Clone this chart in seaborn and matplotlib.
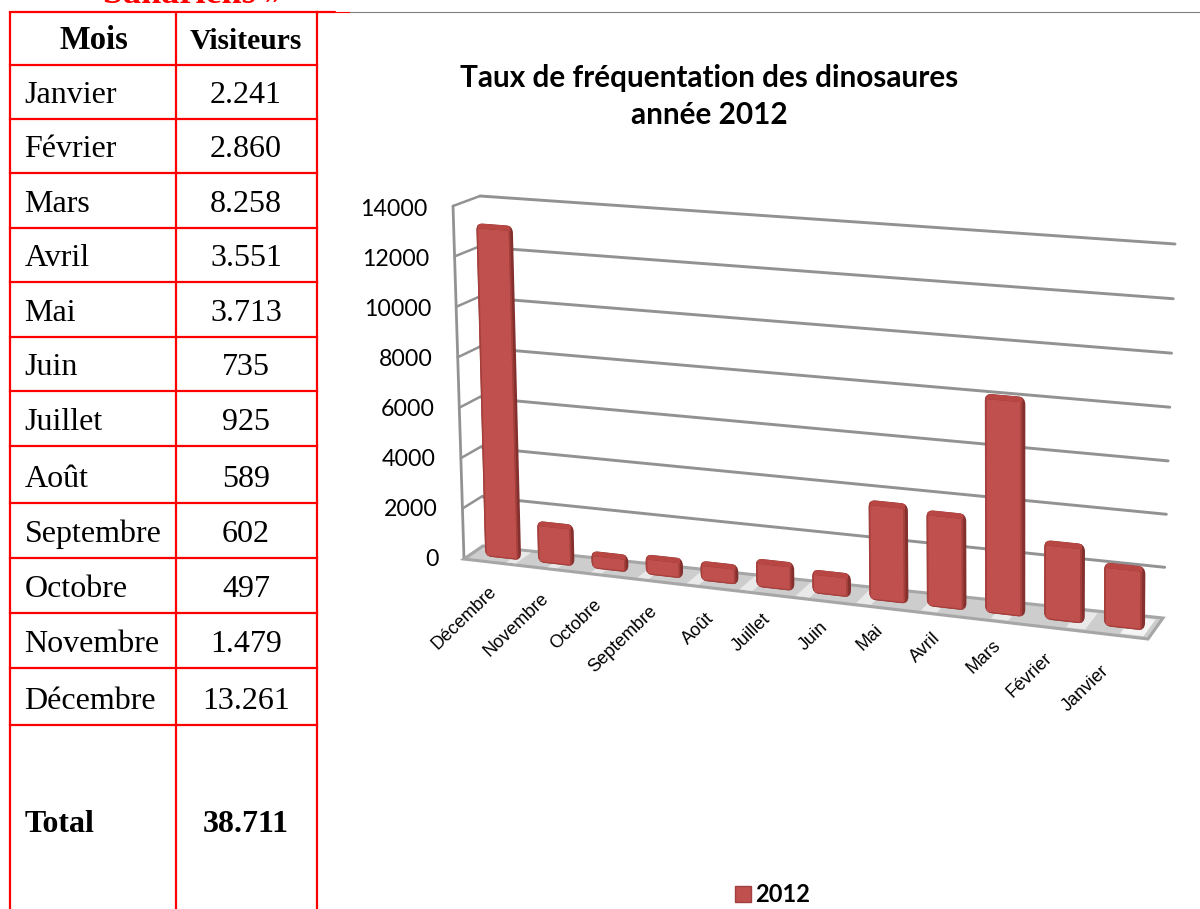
import numpy as np
import pandas as pd
import seaborn as sns
import matplotlib
matplotlib.use('Agg')
import matplotlib.pyplot as plt
import matplotlib.transforms as mtransforms
from matplotlib.patches import FancyBboxPatch, Rectangle, Polygon, Patch

# Data
months = ['Janvier', 'Février', 'Mars', 'Avril', 'Mai', 'Juin', 'Juillet', 'Août',
          'Septembre', 'Octobre', 'Novembre', 'Décembre']
visitors = [2241, 2860, 8258, 3551, 3713, 735, 925, 589, 602, 497, 1479, 13261]
total_visitors = 38711
y_ticks = [0, 2000, 4000, 6000, 8000, 10000, 12000, 14000]
table_rows = [12, 65, 119, 173, 228, 282, 337, 391, 446, 503, 558, 613, 668, 725]
table_cols = [10, 176, 317]

# Label shifts under each bar, in pixels, Décembre first
label_dx = [-8, -9, -10, -9, -7, -7, -5, -8, -8, -6, -14, -17]
label_dy = [25, 26, 26, 26, 27, 22, 24, 20, 21, 22, 28, 34]

RED = '#ff0000'
GRID = '#929292'
FACE = '#c0504d'
SIDE = '#84302e'
EDGE = '#a53f3c'
CAP = '#b84643'


class Plane(mtransforms.Transform):
    # projective map, the chart is a 3D perspective picture
    input_dims = 2
    output_dims = 2
    is_separable = False
    has_inverse = False

    def __init__(self, src, dst):
        super().__init__()
        a = []
        b = []
        for (x, y), (u, v) in zip(src, dst):
            a.append([x, y, 1, 0, 0, 0, -u * x, -u * y])
            a.append([0, 0, 0, x, y, 1, -v * x, -v * y])
            b += [u, v]
        h = np.linalg.solve(np.array(a, float), np.array(b, float))
        self.h = np.append(h, 1).reshape(3, 3)

    def transform_non_affine(self, values):
        xy = np.asarray(values, float)
        p = np.column_stack([xy, np.ones(len(xy))]) @ self.h.T
        return p[:, :2] / p[:, 2:]


class SideWall(mtransforms.Transform):
    # bilinear map, keeps the value ticks evenly spaced on the narrow wall
    input_dims = 2
    output_dims = 2
    is_separable = False
    has_inverse = False

    def __init__(self, low_front, low_back, top_front, top_back, top):
        super().__init__()
        self.c = np.array([low_front, low_back, top_front, top_back], float)
        self.top = top

    def transform_non_affine(self, values):
        xy = np.asarray(values, float)
        t = xy[:, 0:1]
        s = xy[:, 1:2] / self.top
        low = self.c[0] * (1 - t) + self.c[1] * t
        high = self.c[2] * (1 - t) + self.c[3] * t
        return low * (1 - s) + high * s


sns.set_theme(style='white')
fig = plt.figure(figsize=(12, 9.09), dpi=100)
ax = fig.add_axes([0, 0, 1, 1])

df = pd.DataFrame({'mois': months, 'visiteurs': visitors})
chart_order = months[::-1]
sns.barplot(data=df, x='mois', y='visiteurs', order=chart_order, color=FACE,
            saturation=1, width=0.6, linewidth=0, ax=ax, zorder=5)
bars = list(ax.patches)

ax.set_xlim(0, 1200)
ax.set_ylim(909, 0)
ax.axis('off')

# Perspective planes: bars, back wall, side wall, floor
front = Plane([(0, 0), (11, 0), (0, 14000), (11, 14000)],
              [(501, 558), (1122, 628), (492, 211), (1124, 258)]) + ax.transData
back = Plane([(0, 0), (1, 0), (0, 14000), (1, 14000)],
             [(483, 546), (1163, 620), (480, 196), (1175, 244)]) + ax.transData
side = SideWall((464, 559), (483, 546), (453, 206), (480, 196), 14000) + ax.transData
floor = Plane([(-0.66, 0), (11.4, 0), (-0.66, 1), (11.4, 1)],
              [(464, 559), (1148, 639), (483, 546), (1163, 618)]) + ax.transData

# Floor, with the pale reflections between the bars
ax.add_patch(Polygon([(-0.66, 0), (11.4, 0), (11.4, 1), (-0.66, 1)], closed=True, transform=floor,
                     facecolor='#cdcdcd', edgecolor='#a6a6a6', lw=2.2, zorder=2))
for u in np.arange(0.5, 11, 1):
    ax.add_patch(Polygon([(u - 0.12, 0.1), (u + 0.12, 0.1), (u + 0.12, 0.9), (u - 0.12, 0.9)], closed=True,
                         transform=floor, facecolor='#e9e9e9', edgecolor='none', zorder=2.5))
ax.add_patch(Polygon([(11.05, 0.1), (11.33, 0.1), (11.33, 0.9), (11.05, 0.9)], closed=True,
                     transform=floor, facecolor='#f4f4f4', edgecolor='none', zorder=2.5))

# Walls
for v in y_ticks[1:]:
    ax.plot([0, 1], [v, v], color=GRID, lw=2.1, transform=back, zorder=1, solid_capstyle='round')
for v in y_ticks:
    ax.plot([0, 1], [v, v], color=GRID, lw=1.8, transform=side, zorder=1)
ax.plot([0, 0], [0, 14000], color=GRID, lw=2, transform=side, zorder=1)

for v in y_ticks:
    ax.annotate(str(v), xy=(0, v), xycoords=side, xytext=(-18, -0.7 - 1.5 * v / 14000), textcoords='offset points',
                ha='right', va='center', fontsize=16.7, family='Lato', color='black')

# Bars, the flat seaborn rectangle is the front face of each box
for i, bar in enumerate(bars):
    x, w, h = bar.get_x(), bar.get_width(), bar.get_height()
    body = FancyBboxPatch((x, 0), w + 0.08, h + 210, boxstyle='round,pad=0,rounding_size=0.12',
                          mutation_aspect=2400, transform=front, facecolor=SIDE,
                          edgecolor='none', zorder=3)
    ax.add_patch(body)
    bar.set_transform(front)
    bar.set_clip_path(body)
    strips = [Rectangle((x + w, 0), 0.03, h + 210, transform=front, facecolor=EDGE, edgecolor='none', zorder=4),
              Rectangle((x, h), w + 0.03, 210, transform=front, facecolor=CAP, edgecolor='none', zorder=4),
              Rectangle((x, 0), w + 0.03, 50, transform=front, facecolor=EDGE, edgecolor='none', zorder=6),
              Rectangle((x, 0), 0.03, h + 210, transform=front, facecolor=EDGE, edgecolor='none', zorder=6)]
    for strip in strips:
        ax.add_patch(strip)
        strip.set_clip_path(body)
    ax.annotate(chart_order[i], xy=(i, 0), xycoords=front,
                xytext=((label_dx[i] - 4.5) * 0.72, -label_dy[i] * 0.72), textcoords='offset points',
                ha='right', va='top', rotation=44, rotation_mode='anchor', fontsize=13,
                family='Liberation Sans', color='black')

# Title
ax.text(709, 78, 'Taux de fréquentation des dinosaures', ha='center', va='center',
        fontsize=21.4, fontweight='bold', family='Lato', color='black')
ax.text(709, 115, 'année 2012', ha='center', va='center',
        fontsize=21.4, fontweight='bold', family='Lato', color='black')

# Legend
leg = ax.legend(handles=[Patch(facecolor=FACE, edgecolor='#a04040', label='2012')], loc='center',
                bbox_to_anchor=(773, 895), bbox_transform=ax.transData, frameon=False,
                handlelength=0.65, handleheight=0.65, handletextpad=0.2, labelcolor='black',
                prop={'family': 'Lato', 'weight': 'bold', 'size': 17})

# Table
for y in table_rows:
    ax.plot(table_cols[::2], [y, y], color=RED, lw=1.6, zorder=7, solid_capstyle='projecting')
for x in table_cols:
    ax.plot([x, x], [table_rows[0], 909], color=RED, lw=1.6, zorder=7)
ax.plot([317, 335], [12, 12], color=RED, lw=1.6, zorder=7)
ax.plot([335, 350], [11.5, 11.5], color=RED, lw=0.8, zorder=7)
ax.plot([350, 1200], [11.5, 11.5], color='#7f7f7f', lw=0.8, zorder=7)

ax.text(59, table_rows[1] - 16, 'Mois', fontsize=23.5, fontweight='bold', family='Liberation Serif', color='black')
ax.text(246, table_rows[1] - 16, 'Visiteurs', fontsize=21.3, fontweight='bold', ha='center',
        family='Liberation Serif', color='black')
for i, (m, v) in enumerate(zip(months, visitors)):
    y = table_rows[i + 2] - 16
    ax.text(24.5, y, m, fontsize=23, family='Liberation Serif', color='black')
    ax.text(246, y, f'{v:,}'.replace(',', '.'), fontsize=23, ha='center', family='Liberation Serif', color='black')
ax.text(24.5, 832, 'Total', fontsize=23, fontweight='bold', family='Liberation Serif', color='black')
ax.text(246, 832, f'{total_visitors:,}'.replace(',', '.'), fontsize=23, fontweight='bold', ha='center',
        family='Liberation Serif', color='black')

# Heading of the page, cut by the top edge of the picture
ax.text(193, 3, 'Sahariens »', fontsize=26, fontweight='bold', ha='center', family='Liberation Serif', color=RED)

fig.savefig('out.png', dpi=100)
